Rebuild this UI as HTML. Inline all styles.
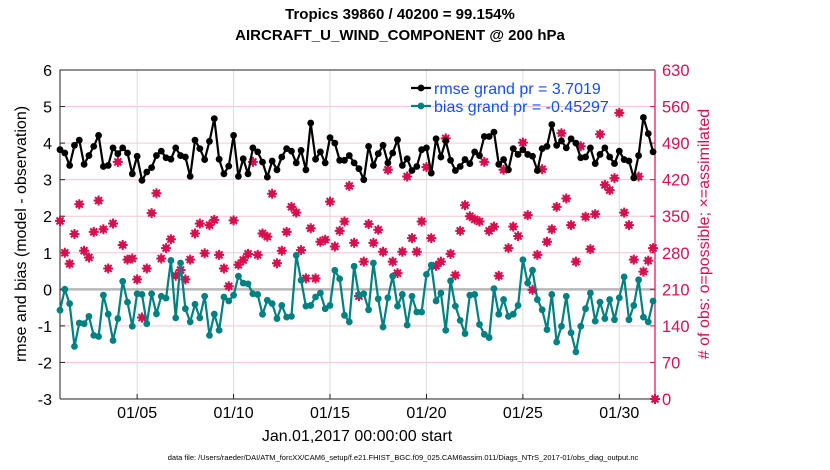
<!DOCTYPE html>
<html><head><meta charset="utf-8">
<style>
body{margin:0;background:#fff;}
svg{display:block;font-family:"Liberation Sans",Arial,sans-serif;}
</style></head>
<body>
<svg id="chart" width="830" height="470" viewBox="0 0 830 470" xmlns="http://www.w3.org/2000/svg">
<rect width="830" height="470" fill="#fff"/>
<text x="400" y="19" text-anchor="middle" font-size="15" font-weight="bold">Tropics 39860 / 40200 = 99.154%</text>
<text x="400" y="40" text-anchor="middle" font-size="15" font-weight="bold">AIRCRAFT_U_WIND_COMPONENT @ 200 hPa</text>
<g id="grid"></g>
<g id="axes"></g>
<g id="series"></g>
<text transform="translate(26,234) rotate(-90)" text-anchor="middle" font-size="16">rmse and bias (model - observation)</text>
<text fill="#d6104f" transform="translate(709,234) rotate(-90)" text-anchor="middle" font-size="16"># of obs: o=possible; ×=assimilated</text>
<text x="357" y="441" text-anchor="middle" font-size="16">Jan.01,2017 00:00:00 start</text>
<text x="403" y="460" text-anchor="middle" font-size="7.5">data file: /Users/raeder/DAI/ATM_forcXX/CAM6_setup/f.e21.FHIST_BGC.f09_025.CAM6assim.011/Diags_NTrS_2017-01/obs_diag_output.nc</text>
<g id="legend"></g>
</svg>
<script>
const leftTicks=[6,5,4,3,2,1,0,-1,-2,-3];
const rightTicks=[0,70,140,210,280,350,420,490,560,630];
const xTickDays=[4,9,14,19,24,29];
const xTickLabels=["01/05","01/10","01/15","01/20","01/25","01/30"];
const rmse=[3.82,3.73,3.39,3.94,4.08,3.42,3.66,3.91,4.21,3.36,3.39,3.87,3.71,3.87,3.73,3.16,3.64,2.98,3.21,3.33,3.66,3.78,3.60,3.56,3.87,3.66,3.62,3.09,4.08,3.85,3.55,4.05,4.67,3.56,3.16,3.37,4.21,3.09,3.57,3.16,3.87,3.76,3.48,3.07,
3.51,3.27,3.62,3.85,3.78,3.46,3.80,3.27,4.55,3.56,3.76,3.46,4.15,4.00,3.53,3.53,3.66,3.46,3.30,3.00,3.91,3.39,3.71,3.94,3.46,3.73,4.09,3.39,3.57,3.25,3.36,3.82,3.87,3.18,4.12,3.62,4.06,3.53,3.25,
3.36,3.55,3.44,3.76,3.66,4.18,4.18,4.30,3.42,3.55,3.27,3.85,3.69,3.82,3.69,3.64,3.25,3.85,3.91,4.51,3.94,4.06,3.87,4.12,4.00,3.60,3.62,3.87,3.44,3.69,3.87,3.62,3.44,3.78,3.55,3.51,3.05,3.66,4.70,4.26,3.76];
const bias=[-0.57,0.00,-0.39,-1.56,-0.92,-0.94,-0.74,-1.26,-1.29,-0.16,-0.68,-1.40,-0.80,0.22,-0.35,-1.01,-0.12,-0.14,-0.94,-0.12,-0.67,-0.19,-0.24,0.79,-0.78,0.72,-0.53,-0.89,-0.41,-0.78,-0.19,-1.26,-0.68,-1.12,-0.21,-0.32,-0.16,0.36,0.17,0.15,-0.12,-0.14,-0.68,-0.30,
-0.39,-0.80,-0.44,-0.76,-0.74,0.93,0.25,-0.46,-0.44,-0.21,-0.10,-0.53,-0.44,0.52,0.29,-0.71,-0.89,0.63,-0.16,-0.12,-0.56,0.72,-0.26,-1.03,-0.23,0.36,-0.46,-0.14,-0.98,-0.19,-0.62,-0.62,0.41,0.66,-0.32,-0.10,-1.12,0.23,-0.46,
-0.85,-1.21,-0.16,-0.14,-0.96,-1.23,-1.32,0.02,-0.68,-0.28,-0.74,-0.68,-0.44,0.81,0.17,0.52,-0.28,-0.56,-1.10,-0.14,-1.44,-1.01,-0.19,-1.19,-1.71,-1.01,-0.53,-0.10,-0.87,-0.35,-0.80,-0.28,-0.83,-0.23,0.34,-0.83,-0.44,0.26,-0.76,-0.89,-0.32];
const obsCount=[341,280,259,316,373,284,271,320,380,325,250,336,454,295,267,269,229,156,250,356,394,269,289,306,236,247,229,267,317,336,279,333,343,276,250,216,342,257,266,278,454,276,317,311,
393,260,284,320,368,357,285,231,327,231,301,305,378,292,322,340,408,299,197,263,335,299,324,282,439,263,241,282,426,308,282,340,444,308,255,263,499,278,237,
322,371,350,344,340,454,322,330,236,439,289,330,312,491,352,209,276,440,301,325,368,509,384,333,263,484,349,287,354,507,410,400,423,548,357,333,267,426,244,265,289,0];
const stepDays=0.25;

const NS="http://www.w3.org/2000/svg";
const L=60,R=655,T=70,B=399,XMAX=30.85;
const xs=d=>L+(R-L)*Math.min(d,XMAX)/XMAX;
const yl=v=>B-(v+3)/9*(B-T);
const yr=v=>B-v/630*(B-T);
const PINK="#d6104f",TEAL="#008080";
function mk(tag,attrs,parent){const e=document.createElementNS(NS,tag);for(const k in attrs)e.setAttribute(k,attrs[k]);parent.appendChild(e);return e;}
const grid=document.getElementById('grid'),axes=document.getElementById('axes'),ser=document.getElementById('series'),leg=document.getElementById('legend');

leftTicks.forEach(v=>{
  if(v!==6&&v!==-3&&v!==0){const g=mk('line',{x1:L,x2:R,y1:yl(v),y2:yl(v),stroke:'#f3c6d6','stroke-width':1},grid);
  
  }
  const t=mk('text',{x:L-8,y:yl(v)+6,'text-anchor':'end','font-size':16},axes);t.textContent=v;
  
  
  mk('line',{x1:L,x2:L+5,y1:yl(v),y2:yl(v),stroke:'#222'},axes);
});
xTickDays.forEach((d,i)=>{
  const g=mk('line',{x1:xs(d),x2:xs(d),y1:T,y2:B,stroke:'#dcdcdc','stroke-width':1},grid);
  
  
  mk('line',{x1:xs(d),x2:xs(d),y1:B,y2:B-5,stroke:'#222'},axes);
  const t=mk('text',{x:xs(d),y:B+19,'text-anchor':'middle','font-size':16},axes);t.textContent=xTickLabels[i];
  
  
});
rightTicks.forEach(v=>{
  mk('line',{x1:R,x2:R-5,y1:yr(v),y2:yr(v),stroke:PINK},axes);
  const t=mk('text',{x:R+7,y:yr(v)+6,'font-size':16.5,fill:PINK},axes);t.textContent=v;
  
  
});
const zl=mk('line',{x1:L,x2:R,y1:yl(0),y2:yl(0),stroke:'#b8b8b8','stroke-width':2.5},grid);


mk('path',{d:`M${L},${B}V${T}H${R}`,fill:'none',stroke:'#222','stroke-width':1},axes);
mk('line',{x1:L,x2:R,y1:B,y2:B,stroke:'#222'},axes);
mk('line',{x1:R,x2:R,y1:T,y2:B,stroke:PINK,'stroke-width':1.2},axes);

obsCount.forEach((v,i)=>{
  const x=xs(i*stepDays),y=yr(v);
  const g=mk('g',{},ser);
  
  
  mk('path',{d:`M${x-5},${y}H${x+5}M${x},${y-5}V${y+5}M${x-3.5},${y-3.5}L${x+3.5},${y+3.5}M${x-3.5},${y+3.5}L${x+3.5},${y-3.5}`,stroke:PINK,'stroke-width':2},g);
  mk('circle',{cx:x,cy:y,r:3.4,fill:PINK},g);
});
function line(vals,col,name){
  const d=vals.map((v,i)=>(i?'L':'M')+xs(i*stepDays).toFixed(1)+','+yl(v).toFixed(1)).join('');
  const p=mk('path',{d:d,fill:'none',stroke:col,'stroke-width':2.2},ser);
  
  
  vals.forEach((v,i)=>{const c=mk('circle',{cx:xs(i*stepDays),cy:yl(v),r:3.4,fill:col},ser);
    
    });
}
line(bias,TEAL,'bias');
line(rmse,'#000','rmse');

[['#000','rmse grand pr = 3.7019',94],[TEAL,'bias grand pr = -0.45297',112]].forEach(([c,txt,y])=>{
  const g=mk('g',{},leg);
  
  
  mk('line',{x1:411,x2:431,y1:y-6,y2:y-6,stroke:c,'stroke-width':2.2},g);
  mk('circle',{cx:421,cy:y-6,r:3.4,fill:c},g);
  const t=mk('text',{x:434,y:y,'font-size':16,fill:'#1450f0'},g);t.textContent=txt;
});
</script>
</body></html>
